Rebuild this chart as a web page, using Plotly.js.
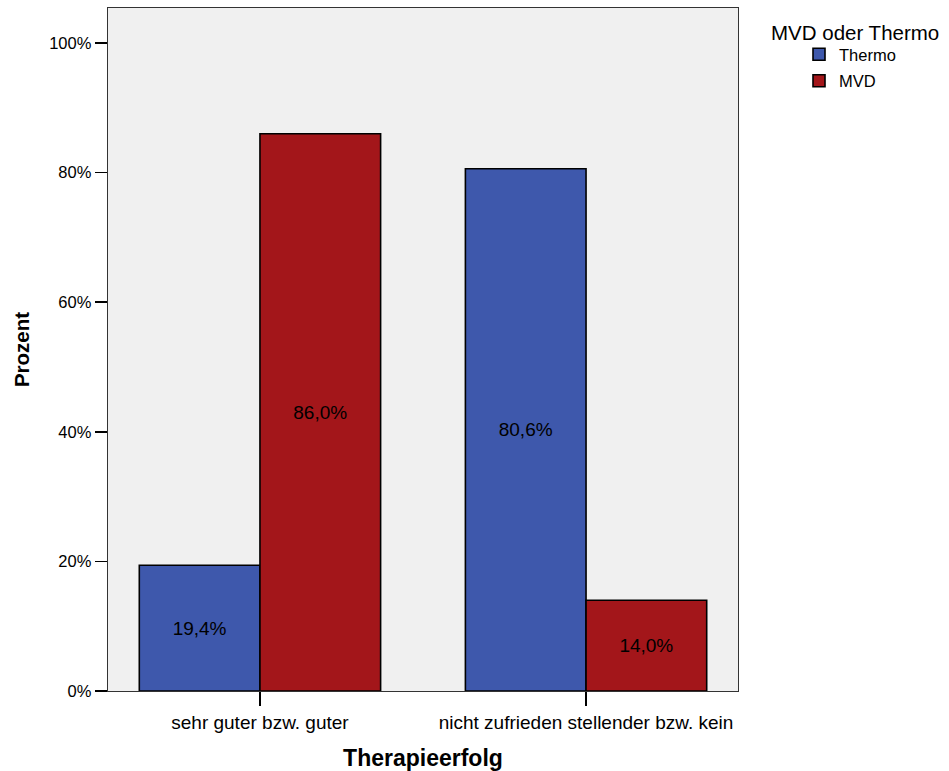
<!DOCTYPE html>
<html>
<head>
<meta charset="utf-8">
<script src="https://cdn.plot.ly/plotly-3.0.1.min.js"></script>
<style>
  html, body { margin: 0; padding: 0; background: #ffffff; }
  #chart { width: 949px; height: 771px; }
</style>
</head>
<body>
<div id="chart"></div>
<script>
// Therapieerfolg by treatment group (percent within group)
const categories = ['sehr guter bzw. guter', 'nicht zufrieden stellender bzw. kein'];
const thermoValues = [19.4, 80.6];
const mvdValues = [86.0, 14.0];
const seriesNames = ['Thermo', 'MVD'];
const yTickValues = [0, 20, 40, 60, 80, 100];
const yTickLabels = ['0%', '20%', '40%', '60%', '80%', '100%'];

const FONT = 'Liberation Sans, Arial, sans-serif';

function barTrace(name, values, color) {
  return {
    type: 'bar',
    name: name,
    legendgroup: name,
    x: categories,
    y: values,
    marker: { color: color, line: { color: '#000000', width: 1.6 } },
    texttemplate: '%{y:.1f}%',
    textposition: 'inside',
    insidetextanchor: 'middle',
    textangle: 0,
    textfont: { family: FONT, size: 19, color: '#000000' },
    hoverinfo: 'skip'
  };
}

const data = [
  barTrace(seriesNames[0], thermoValues, '#3e58ac'),
  barTrace(seriesNames[1], mvdValues, '#a3161a')
];

const layout = {
  width: 949,
  height: 771,
  margin: { l: 108, r: 211, t: 8, b: 80, pad: 0 },
  paper_bgcolor: '#ffffff',
  plot_bgcolor: '#f0f0f0',
  separators: ',.',
  barmode: 'group',
  bargap: 0.26,
  bargroupgap: 0,
  font: { family: FONT, color: '#000000' },
  showlegend: true,
  legend: {
    xref: 'container', yref: 'container',
    x: 799 / 949, y: 1 - 37 / 771,
    xanchor: 'left', yanchor: 'top',
    bgcolor: 'rgba(0,0,0,0)',
    font: { family: FONT, size: 16.5, color: '#000000' },
    traceorder: 'grouped',
    tracegroupgap: 2,
    itemclick: false,
    itemdoubleclick: false
  },
  annotations: [{
    text: 'MVD oder Thermo',
    xref: 'paper', yref: 'paper',
    x: (769 - 108) / 630, y: 1 - (32 - 8) / 683,
    xanchor: 'left', yanchor: 'middle',
    showarrow: false,
    font: { family: FONT, size: 20.5, color: '#000000' }
  }],
  xaxis: {
    type: 'category',
    range: [-0.466, 1.466],
    showline: true, linecolor: '#333333', linewidth: 1.3, mirror: true,
    ticks: 'outside', ticklen: 14, tickwidth: 1.5, tickcolor: '#000000',
    tickfont: { family: FONT, size: 19, color: '#000000' },
    showgrid: false, zeroline: false,
    title: { text: 'Therapieerfolg', font: { family: FONT, size: 23, color: '#000000', weight: 'bold' }, standoff: 18 }
  },
  yaxis: {
    range: [0, 105.4],
    tickmode: 'array',
    tickvals: yTickValues,
    ticktext: yTickLabels,
    showline: true, linecolor: '#333333', linewidth: 1.3, mirror: true,
    ticks: 'outside', ticklen: 12, tickwidth: 1.5, tickcolor: '#000000',
    tickfont: { family: FONT, size: 16.5, color: '#000000' },
    showgrid: false, zeroline: false,
    title: { text: 'Prozent', font: { family: FONT, size: 20.5, color: '#000000', weight: 'bold' }, standoff: 14 }
  }
};

Plotly.newPlot('chart', data, layout, { displayModeBar: false, staticPlot: true });
</script>
</body>
</html>
